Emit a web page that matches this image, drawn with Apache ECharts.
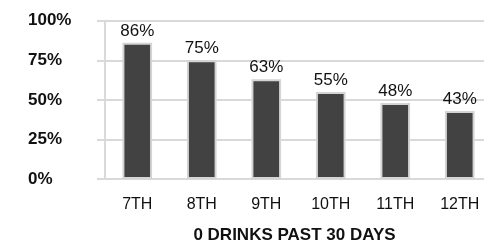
<!DOCTYPE html>
<html>
<head>
<meta charset="utf-8">
<script src="https://cdn.jsdelivr.net/npm/echarts@6/dist/echarts.min.js"></script>
<style>
  html, body { margin: 0; padding: 0; background: #fff; }
  #chart { width: 484px; height: 246px; }
</style>
</head>
<body>
<div id="chart"></div>
<script>
// grades and share with 0 drinks in past 30 days
var grades = ['7TH', '8TH', '9TH', '10TH', '11TH', '12TH'];
var values = [86, 75, 63, 55, 48, 43];
var yTicks = [0, 25, 50, 75, 100];

var font = 'Liberation Sans, Arial, sans-serif';
var gridColor = '#d9d9d9';

var option = {
    animation: false,
    grid: {
        left: 105,
        right: -8,
        top: 20.7,
        bottom: 67,
        outerBoundsMode: 'none'
    },
    xAxis: {
        type: 'category',
        data: grades,
        name: '0 DRINKS PAST 30 DAYS',
        nameLocation: 'middle',
        nameGap: 48,
        nameTextStyle: {
            fontFamily: font,
            fontSize: 17,
            fontWeight: 'bold',
            color: '#111',
            padding: [0, 8, 0, 0]
        },
        axisLine: { show: false },
        axisTick: { show: false },
        axisLabel: {
            fontFamily: font,
            fontSize: 16,
            lineHeight: 16,
            color: '#111',
            margin: 18
        }
    },
    yAxis: {
        type: 'value',
        min: yTicks[0],
        max: yTicks[yTicks.length - 1],
        interval: 25,
        axisLine: { show: true, lineStyle: { color: gridColor, width: 2 } },
        axisTick: { show: true, length: 8, lineStyle: { color: gridColor, width: 2 } },
        splitLine: { show: true, lineStyle: { color: gridColor, width: 2 } },
        axisLabel: {
            fontFamily: font,
            fontSize: 17,
            fontWeight: 'bold',
            color: '#111',
            align: 'left',
            margin: 77,
            formatter: function (v) { return v + '%'; }
        }
    },
    series: [
        {
            type: 'bar',
            data: values,
            barWidth: '46%',
            itemStyle: {
                color: '#424242',
                borderColor: '#d4d4d4',
                borderWidth: 2
            },
            label: {
                show: true,
                position: 'top',
                distance: 3,
                fontFamily: font,
                fontSize: 17,
                color: '#111',
                formatter: function (p) { return p.value + '%'; }
            }
        }
    ]
};

var myChart = echarts.init(document.getElementById('chart'));
myChart.setOption(option);
</script>
</body>
</html>
